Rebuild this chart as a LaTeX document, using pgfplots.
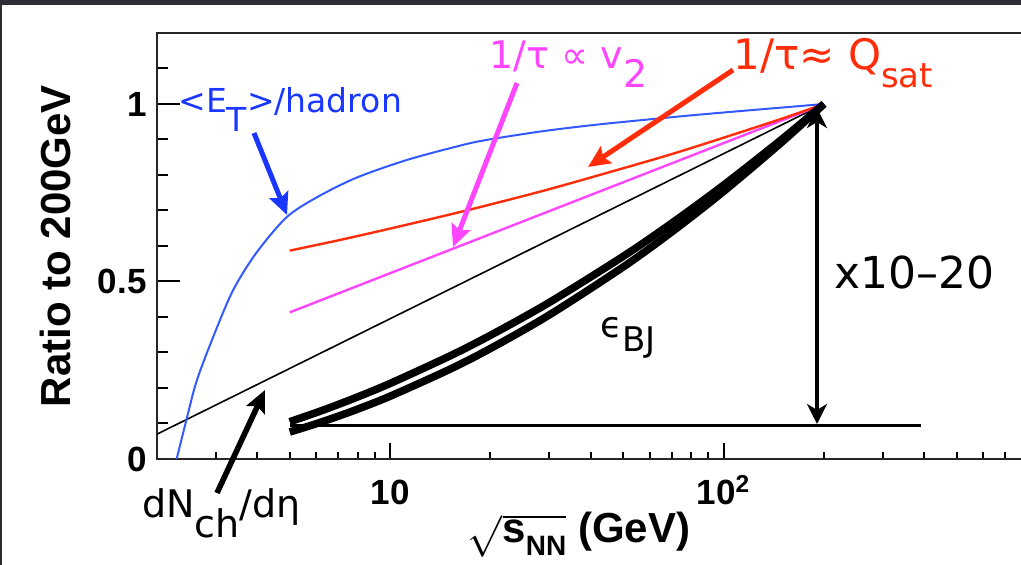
\documentclass[border=0pt]{standalone}
\usepackage{fontspec}
\setmainfont{DejaVu Sans}
\newfontfamily\hv{Liberation Sans}
\usepackage{pgfplots}
\pgfplotsset{compat=1.18}
\usetikzlibrary{arrows.meta}
\definecolor{framedark}{RGB}{45,45,52}
\definecolor{etblue}{RGB}{25,55,255}
\definecolor{curveblue}{RGB}{50,90,255}
\definecolor{mag}{RGB}{255,70,255}
\definecolor{redo}{RGB}{255,45,10}
\begin{document}
\begin{tikzpicture}
\fill[framedark] (0,0) rectangle (510.5pt,-282.5pt);
\fill[white] (1pt,-2.5pt) rectangle (510.5pt,-282.5pt);
\begin{axis}[
  at={(78.5pt,-229.5pt)}, anchor=south west,
  scale only axis, width=450pt, height=213pt,
  xmode=log, xmin=2, xmax=1000, ymin=0, ymax=1.2,
  axis line style={line width=1.2pt, black!85},
  tick pos=left,
  xtick={10,100},
  xticklabels={{10},{10\textsuperscript{2}}},
  minor xtick={3,4,5,6,7,8,9,20,30,40,50,60,70,80,90,200,300,400,500,600,700,800,900},
  ytick={0,0.5,1},
  yticklabels={{0},{0.5},{1}},
  minor ytick={0.1,0.2,0.3,0.4,0.6,0.7,0.8,0.9,1.1},
  tick style={line width=1pt, black},
  xtick style={/pgfplots/major tick length=8pt,/pgfplots/minor tick length=3.5pt},
  ytick style={/pgfplots/major tick length=11.5pt,/pgfplots/minor tick length=5.5pt},
  xticklabel style={font=\hv\bfseries\fontsize{17.5}{19}\selectfont, anchor=base, inner sep=0pt, yshift=-23pt},
  yticklabel style={font=\hv\bfseries\fontsize{17.5}{19}\selectfont, anchor=east, inner sep=0pt, xshift=-5pt},
]
% horizontal reference line
\addplot[black, line width=1.5pt] coordinates {(5,0.095) (390,0.095)};
% dN/deta
\addplot[black, line width=0.8pt] coordinates {(2,0.07) (200,1.0)};
% 1/tau ~ v2
\addplot[mag, line width=1.2pt] coordinates {(5,0.413) (200,1.0)};
% 1/tau ~ Qsat
\addplot[redo, line width=1.2pt, smooth] coordinates {(5,0.587) (7,0.616) (10,0.649) (15,0.688) (20,0.717) (30,0.760) (50,0.819) (70,0.859) (100,0.905) (150,0.959) (200,1.0)};
% <ET>/hadron
\addplot[curveblue, line width=1pt, smooth] coordinates {(2.29,0) (2.45,0.11) (2.63,0.22) (2.96,0.348) (3.38,0.475) (3.96,0.579) (4.88,0.68) (6.0,0.736) (7.91,0.792) (11.2,0.842) (15.8,0.880) (19.0,0.897) (28,0.922) (40,0.940) (56,0.954) (80,0.968) (112,0.980) (150,0.990) (200,1.0)};
% epsilon BJ bands
\addplot[black, line width=3.8pt, smooth] coordinates {(5,0.105) (6,0.1306) (7,0.1538) (8,0.175) (10,0.2128) (15,0.2888) (20,0.3485) (30,0.4408) (50,0.5708) (70,0.6646) (100,0.7714) (150,0.9016) (200,1.0)};
\addplot[black, line width=3.8pt, smooth] coordinates {(5,0.076) (6,0.0992) (7,0.1207) (8,0.1406) (10,0.1768) (15,0.2514) (20,0.3113) (30,0.4056) (50,0.5409) (70,0.6399) (100,0.7536) (150,0.8936) (200,1.0)};
\end{axis}
\begin{scope}[x=0.5pt,y=-0.5pt]
% axis labels
\node[rotate=90, inner sep=0pt, font=\hv\bfseries\fontsize{21}{24}\selectfont] at (55,246) {Ratio to 200GeV};
\node[anchor=base, inner sep=0pt, font=\hv\bfseries\fontsize{21}{24}\selectfont] at (579,543)
  {$\sqrt{\mbox{\hv\bfseries s\raisebox{-0.3em}{\fontsize{14}{14}\selectfont NN}}}$ (GeV)};
% annotations
\node[anchor=base west, inner sep=0pt, text=etblue, font=\fontsize{16.5}{18}\selectfont] at (178,113) {<E\raisebox{-9.5pt}{T}>/hadron};
\node[anchor=base west, inner sep=0pt, text=mag, font=\fontsize{19}{20}\selectfont] at (489,69) {1/τ ∝ v\raisebox{-9.5pt}{2}};
\node[anchor=base west, inner sep=0pt, text=redo, font=\fontsize{21}{22}\selectfont] at (733,70) {1/τ≈ Q\raisebox{-9pt}{\fontsize{17}{17}\selectfont sat}};
\node[anchor=base west, inner sep=0pt, font=\fontsize{22}{24}\selectfont] at (834,289) {x10–20};
\node[anchor=base west, inner sep=0pt, font=\fontsize{18}{20}\selectfont] at (600,338) {ϵ\raisebox{-7pt}{\fontsize{17}{17}\selectfont BJ}};
\node[anchor=base west, inner sep=0pt, font=\fontsize{19}{20}\selectfont] at (142,517) {dN\raisebox{-10pt}{ch}/dη};
% arrows
\draw[etblue, line width=2.5pt, -{Stealth[length=11pt,width=10pt,inset=2pt]}] (254,133) -- (287,215);
\draw[mag, line width=2.5pt, -{Stealth[length=11pt,width=10pt,inset=2pt]}] (517,83) -- (453,247);
\draw[redo, line width=2.5pt, -{Stealth[length=11pt,width=10pt,inset=2pt]}] (733,70) -- (588,167);
\draw[black, line width=2.8pt, -{Stealth[length=11pt,width=10pt,inset=2pt]}] (217,493) -- (265,390);
\draw[black, line width=2pt, {Stealth[length=10pt,width=10pt,inset=3pt]}-{Stealth[length=10pt,width=10pt,inset=3pt]}] (817,424) -- (817,108);
\end{scope}
\pgfresetboundingbox
\useasboundingbox (0,0) rectangle (510.5pt,-282.5pt);
\end{tikzpicture}
\end{document}
